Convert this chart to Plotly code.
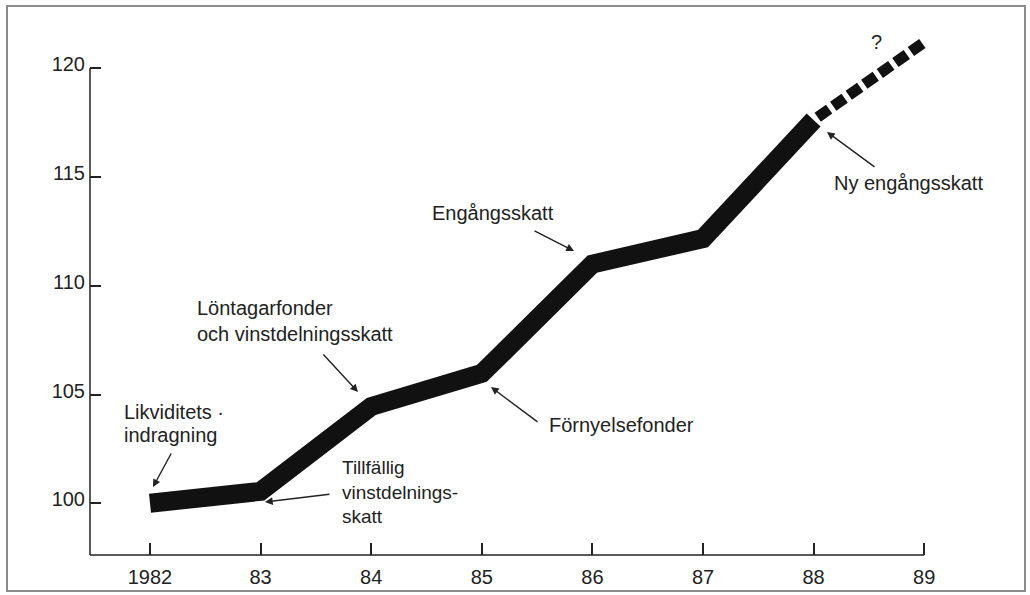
import plotly.graph_objects as go

# ---- data ----
years = [1982, 1983, 1984, 1985, 1986, 1987, 1988]
index_values = [100.0, 100.55, 104.45, 105.97, 111.0, 112.17, 117.62]
forecast_years = [1988, 1989]
forecast_values = [117.62, 121.2]
x_tick_vals = [1982, 1983, 1984, 1985, 1986, 1987, 1988, 1989]
x_tick_text = ["1982", "83", "84", "85", "86", "87", "88", "89"]
y_tick_vals = [100, 105, 110, 115, 120]
y_tick_text = ["100", "105", "110", "115", "120"]

# ---- layout geometry (pixels) ----
W, H = 1030, 595
ML, MR, MT, MB = 90, 70, 30, 40
PW, PH = W - ML - MR, H - MT - MB
X_AT, X_PER = 150, 110.6   # pixel of 1982, pixels per year
Y_AT, Y_PER = 503.3, 21.75  # pixel of 100, pixels per unit


def dx(px):
    return 1982 + (px - X_AT) / X_PER


def dy(py):
    return 100 + (Y_AT - py) / Y_PER


def paper_x(px):
    return (px - ML) / PW


def paper_y(py):
    return (H - MB - py) / PH


FONT = "Liberation Sans, Arial, Helvetica, sans-serif"
TXT = "#222222"
FS = 20

fig = go.Figure()
fig.add_trace(go.Scatter(
    x=forecast_years, y=forecast_values, mode="lines",
    line=dict(color="#111111", width=11, dash="0px,5px,14px,0px"),
    hoverinfo="skip", showlegend=False))
fig.add_trace(go.Scatter(
    x=years, y=index_values, mode="lines",
    line=dict(color="#111111", width=19),
    hoverinfo="skip", showlegend=False))

xr = [dx(ML), dx(W - MR)]
yr = [dy(H - MB), dy(MT)]

annotations = []
# text labels: (text, left px, center py, size)
labels = [
    ("Likviditets ·", 122, 412, FS),
    ("indragning", 122, 435, FS),
    ("Löntagarfonder", 195, 308, FS),
    ("och vinstdelningsskatt", 195, 334, FS),
    ("Tillfällig<br>vinstdelnings-<br>skatt", 340, 492, 19),
    ("Förnyelsefonder", 547, 425, FS),
    ("Engångsskatt", 430, 213, FS),
    ("Ny engångsskatt", 832, 183, FS),
]
for t, lx, cy, fs in labels:
    annotations.append(dict(text=t, x=dx(lx), y=dy(cy), xref="x", yref="y",
                            xanchor="left", yanchor="middle", align="left",
                            showarrow=False,
                            font=dict(family=FONT, size=fs, color=TXT)))
annotations.append(dict(text="?", x=dx(876), y=dy(42), xref="x", yref="y",
                        xanchor="center", yanchor="middle", showarrow=False,
                        font=dict(family=FONT, size=FS, color=TXT)))

# arrows: head (px,py), tail (px,py)
arrows = [
    ((153, 487), (172, 452)),
    ((358, 392), (322, 353)),
    ((265, 502), (331, 494)),
    ((491, 387), (539, 423)),
    ((574, 251), (533, 230)),
    ((827, 132), (876, 168)),
]
for (hx, hy), (tx, ty) in arrows:
    annotations.append(dict(text="", x=dx(hx), y=dy(hy), xref="x", yref="y",
                            ax=tx - hx, ay=ty - hy, showarrow=True,
                            arrowhead=2, arrowsize=1.1, arrowwidth=1.4,
                            arrowcolor=TXT))

shapes = [
    # outer frame
    dict(type="rect", xref="paper", yref="paper",
         x0=paper_x(7), x1=paper_x(1025), y0=paper_y(591), y1=paper_y(6),
         line=dict(color="#8c8c8c", width=2), fillcolor="rgba(0,0,0,0)"),
    # x axis line
    dict(type="line", xref="x", yref="paper", x0=xr[0], x1=1989, y0=0, y1=0,
         line=dict(color=TXT, width=1.5)),
    # y axis line
    dict(type="line", xref="paper", yref="y", x0=0, x1=0, y0=yr[0], y1=120,
         line=dict(color=TXT, width=1.5)),
]

fig.update_layout(
    width=W, height=H,
    margin=dict(l=ML, r=MR, t=MT, b=MB, pad=0, autoexpand=False),
    paper_bgcolor="white", plot_bgcolor="white",
    font=dict(family=FONT, size=FS, color=TXT),
    xaxis=dict(range=xr, tickvals=x_tick_vals, ticktext=x_tick_text,
               ticks="inside", ticklen=12, tickwidth=1.5, tickcolor=TXT,
               showline=False, showgrid=False, zeroline=False,
               ticklabelstandoff=8, automargin=False, fixedrange=True),
    yaxis=dict(range=yr, tickvals=y_tick_vals, ticktext=y_tick_text,
               ticks="inside", ticklen=11, tickwidth=1.5, tickcolor=TXT,
               showline=False, showgrid=False, zeroline=False,
               ticklabelstandoff=4, ticklabelshift=-4, automargin=False,
               fixedrange=True),
    annotations=annotations,
    shapes=shapes,
    showlegend=False,
)

fig.write_html(
    "out.html",
    config={"displayModeBar": False},
    post_script="document.body.style.margin='0px';document.body.style.overflow='hidden';",
)
